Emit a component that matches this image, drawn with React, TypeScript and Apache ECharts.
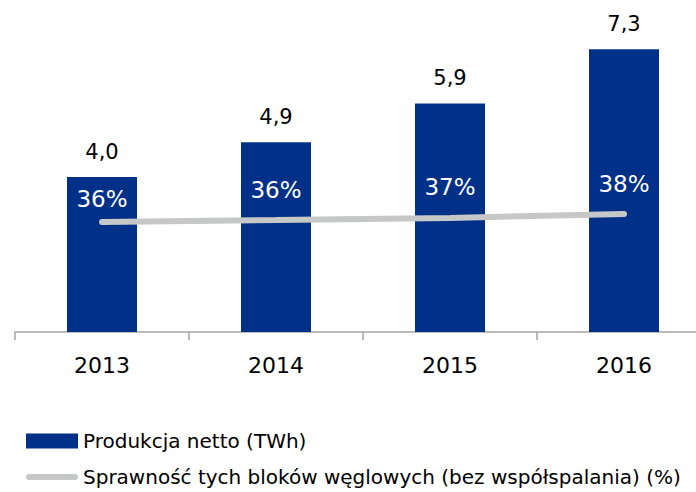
import React, { useEffect, useRef } from "react";
import * as echarts from "echarts";

const categories = ["2013", "2014", "2015", "2016"];
const production = [4.0, 4.9, 5.9, 7.3];
const efficiency = [35.5, 36.1, 36.8, 38.1];
const effLabelDistance = [11, 19, 19, 18];
const barName = "Produkcja netto (TWh)";
const lineName = "Sprawność tych bloków węglowych (bez współspalania) (%)";

const FONT = "'DejaVu Sans', 'Noto Sans', sans-serif";
const LINE_ICON = "path://M3,0 H49 A3,3 0 0 1 49,6 H3 A3,3 0 0 1 3,0 Z";

export default function App() {
  const ref = useRef<HTMLDivElement>(null);
  useEffect(() => {
    if (!ref.current) return;
    const chart = echarts.init(ref.current, undefined, { renderer: "svg" });
    chart.setOption({
      animation: false,
      textStyle: { fontFamily: FONT },
      grid: { left: 15, top: 22, width: 696, bottom: 160, outerBoundsMode: "none" },
      legend: {
        orient: "vertical",
        left: 26,
        top: 431,
        padding: 0,
        itemWidth: 52,
        itemHeight: 15,
        itemGap: 16,
        textStyle: { fontFamily: FONT, fontSize: 20, color: "#000" },
        data: [
          { name: barName, icon: "rect" },
          { name: lineName, icon: LINE_ICON, itemStyle: { color: "#c6c8c8" } },
        ],
      },
      xAxis: {
        type: "category",
        data: categories,
        axisLine: { lineStyle: { color: "#a6a6a6", width: 1.5 } },
        axisTick: { show: true, length: 8, lineStyle: { color: "#a6a6a6", width: 1.5 } },
        axisLabel: { fontFamily: FONT, fontSize: 22, color: "#000", margin: 22 },
      },
      yAxis: [
        { type: "value", min: 0, max: 8, show: false, splitLine: { show: false } },
        { type: "value", min: 0, max: 100, show: false, splitLine: { show: false } },
      ],
      series: [
        {
          name: barName,
          type: "bar",
          data: production,
          barWidth: 70,
          itemStyle: { color: "#003087" },
          label: {
            show: true,
            position: "top",
            distance: 15,
            fontFamily: FONT,
            fontSize: 21,
            color: "#000",
            formatter: (p: any) => p.value.toFixed(1).replace(".", ","),
          },
        },
        {
          name: lineName,
          type: "line",
          yAxisIndex: 1,
          data: efficiency.map((v, i) => ({ value: v, label: { distance: effLabelDistance[i] } })),
          symbol: "circle",
          symbolSize: 0.1,
          showSymbol: true,
          lineStyle: { color: "#c6c8c8", width: 6, cap: "round" },
          itemStyle: { color: "#c6c8c8" },
          label: {
            show: true,
            position: "top",
            fontFamily: FONT,
            fontSize: 23,
            color: "#ffffff",
            formatter: (p: any) => Math.round(p.value) + "%",
          },
        },
      ],
    });
    return () => chart.dispose();
  }, []);
  return (
    <div
      ref={ref}
      style={{ position: "absolute", left: 0, top: 0, width: 696, height: 492 }}
    />
  );
}
